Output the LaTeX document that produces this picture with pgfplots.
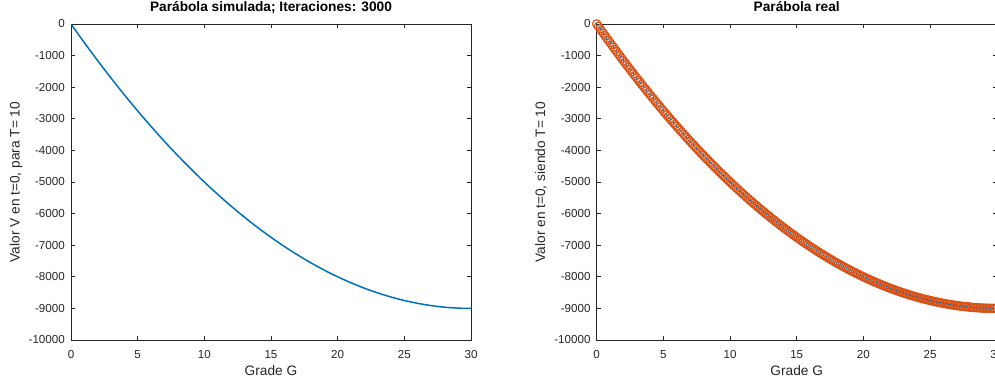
\documentclass[border=0pt]{standalone}
\usepackage{pgfplots}
\usepackage{pgfplotstable}
\pgfplotsset{compat=1.18}
\usepackage{fontspec}
\setmainfont{Liberation Sans}
\definecolor{mblue}{rgb}{0,0.447,0.741}
\definecolor{morange}{rgb}{0.85,0.325,0.098}
\definecolor{axgray}{rgb}{0.15,0.15,0.15}

\pgfplotstableread{
G V
0 0
0.25 -149.375
0.5 -297.5
0.75 -444.375
1 -590
1.25 -734.375
1.5 -877.5
1.75 -1019.375
2 -1160
2.25 -1299.375
2.5 -1437.5
2.75 -1574.375
3 -1710
3.25 -1844.375
3.5 -1977.5
3.75 -2109.375
4 -2240
4.25 -2369.375
4.5 -2497.5
4.75 -2624.375
5 -2750
5.25 -2874.375
5.5 -2997.5
5.75 -3119.375
6 -3240
6.25 -3359.375
6.5 -3477.5
6.75 -3594.375
7 -3710
7.25 -3824.375
7.5 -3937.5
7.75 -4049.375
8 -4160
8.25 -4269.375
8.5 -4377.5
8.75 -4484.375
9 -4590
9.25 -4694.375
9.5 -4797.5
9.75 -4899.375
10 -5000
10.25 -5099.375
10.5 -5197.5
10.75 -5294.375
11 -5390
11.25 -5484.375
11.5 -5577.5
11.75 -5669.375
12 -5760
12.25 -5849.375
12.5 -5937.5
12.75 -6024.375
13 -6110
13.25 -6194.375
13.5 -6277.5
13.75 -6359.375
14 -6440
14.25 -6519.375
14.5 -6597.5
14.75 -6674.375
15 -6750
15.25 -6824.375
15.5 -6897.5
15.75 -6969.375
16 -7040
16.25 -7109.375
16.5 -7177.5
16.75 -7244.375
17 -7310
17.25 -7374.375
17.5 -7437.5
17.75 -7499.375
18 -7560
18.25 -7619.375
18.5 -7677.5
18.75 -7734.375
19 -7790
19.25 -7844.375
19.5 -7897.5
19.75 -7949.375
20 -8000
20.25 -8049.375
20.5 -8097.5
20.75 -8144.375
21 -8190
21.25 -8234.375
21.5 -8277.5
21.75 -8319.375
22 -8360
22.25 -8399.375
22.5 -8437.5
22.75 -8474.375
23 -8510
23.25 -8544.375
23.5 -8577.5
23.75 -8609.375
24 -8640
24.25 -8669.375
24.5 -8697.5
24.75 -8724.375
25 -8750
25.25 -8774.375
25.5 -8797.5
25.75 -8819.375
26 -8840
26.25 -8859.375
26.5 -8877.5
26.75 -8894.375
27 -8910
27.25 -8924.375
27.5 -8937.5
27.75 -8949.375
28 -8960
28.25 -8969.375
28.5 -8977.5
28.75 -8984.375
29 -8990
29.25 -8994.375
29.5 -8997.5
29.75 -8999.375
30 -9000
}\datatable

\pgfplotstableread{
G V
0.125 -74.84
0.375 -223.59
0.625 -371.09
0.875 -517.34
1.125 -662.34
1.375 -806.09
1.625 -948.59
1.875 -1089.84
2.125 -1229.84
2.375 -1368.59
2.625 -1506.09
2.875 -1642.34
3.125 -1777.34
3.375 -1911.09
3.625 -2043.59
3.875 -2174.84
4.125 -2304.84
4.375 -2433.59
4.625 -2561.09
4.875 -2687.34
5.125 -2812.34
5.375 -2936.09
5.625 -3058.59
5.875 -3179.84
6.125 -3299.84
6.375 -3418.59
6.625 -3536.09
6.875 -3652.34
7.125 -3767.34
7.375 -3881.09
7.625 -3993.59
7.875 -4104.84
8.125 -4214.84
8.375 -4323.59
8.625 -4431.09
8.875 -4537.34
9.125 -4642.34
9.375 -4746.09
9.625 -4848.59
9.875 -4949.84
10.125 -5049.84
10.375 -5148.59
10.625 -5246.09
10.875 -5342.34
11.125 -5437.34
11.375 -5531.09
11.625 -5623.59
11.875 -5714.84
12.125 -5804.84
12.375 -5893.59
12.625 -5981.09
12.875 -6067.34
13.125 -6152.34
13.375 -6236.09
13.625 -6318.59
13.875 -6399.84
14.125 -6479.84
14.375 -6558.59
14.625 -6636.09
14.875 -6712.34
15.125 -6787.34
15.375 -6861.09
15.625 -6933.59
15.875 -7004.84
16.125 -7074.84
16.375 -7143.59
16.625 -7211.09
16.875 -7277.34
17.125 -7342.34
17.375 -7406.09
17.625 -7468.59
17.875 -7529.84
18.125 -7589.84
18.375 -7648.59
18.625 -7706.09
18.875 -7762.34
19.125 -7817.34
19.375 -7871.09
19.625 -7923.59
19.875 -7974.84
20.125 -8024.84
20.375 -8073.59
20.625 -8121.09
20.875 -8167.34
21.125 -8212.34
21.375 -8256.09
21.625 -8298.59
21.875 -8339.84
22.125 -8379.84
22.375 -8418.59
22.625 -8456.09
22.875 -8492.34
23.125 -8527.34
23.375 -8561.09
23.625 -8593.59
23.875 -8624.84
24.125 -8654.84
24.375 -8683.59
24.625 -8711.09
24.875 -8737.34
25.125 -8762.34
25.375 -8786.09
25.625 -8808.59
25.875 -8829.84
26.125 -8849.84
26.375 -8868.59
26.625 -8886.09
26.875 -8902.34
27.125 -8917.34
27.375 -8931.09
27.625 -8943.59
27.875 -8954.84
28.125 -8964.84
28.375 -8973.59
28.625 -8981.09
28.875 -8987.34
29.125 -8992.34
29.375 -8996.09
29.625 -8998.59
29.875 -8999.84
}\midtable

\pgfplotsset{
  mstyle/.style={
    scale only axis, width=400pt, height=316pt,
    xmin=0, xmax=30, ymin=-10000, ymax=0,
    xtick={0,5,...,30}, ytick={-10000,-9000,...,0},
    tick align=inside, xtick pos=both, ytick pos=both,
    major tick length=4pt,
    axis line style={axgray, line width=0.8pt},
    every tick/.style={axgray, line width=0.8pt},
    scaled y ticks=false, scaled x ticks=false,
    /pgf/number format/assume math mode=true,
    /pgf/number format/1000 sep={},
    tick label style={font=\fontsize{11.6}{13}\selectfont, text=axgray},
    xticklabel style={anchor=base, yshift=-18.3pt},
    yticklabel style={anchor=east, inner sep=0pt, xshift=-6pt},
    title style={at={(axis description cs:0.5,1)}, anchor=base, yshift=6pt,
      font=\fontsize{13.7}{15}\selectfont\bfseries},
    xlabel style={at={(axis description cs:0.5,0)}, anchor=base, yshift=-35pt,
      font=\fontsize{13.7}{15}\selectfont, text=axgray},
    ylabel style={font=\fontsize{13.7}{15}\selectfont, text=axgray, anchor=center},
  }
}

\begin{document}
\begin{tikzpicture}
\begin{axis}[mstyle, at={(0pt,0pt)}, anchor=south west,
  title={Parábola simulada; Iteraciones: 3000},
  xlabel={Grade G},
  ylabel={Valor V en t=0, para T= 10},
  ylabel style={at={(axis description cs:-0.1375,0.5)}}]
\addplot[mblue, line width=1.5pt] table[x=G, y=V] {\datatable};
\end{axis}
\begin{axis}[mstyle, at={(525.7pt,0pt)}, anchor=south west, clip=false,
  title={Parábola real},
  xlabel={Grade G},
  ylabel={Valor en t=0, siendo T= 10},
  ylabel style={at={(axis description cs:-0.139,0.5)}}]
\addplot[only marks, mark=o, mark size=4.2pt, morange, mark options={line width=1.1pt}] table[x=G, y=V] {\datatable};
\addplot[only marks, mark=o, mark size=4.2pt, morange, mark options={line width=1.1pt}] table[x=G, y=V] {\midtable};
\addplot[only marks, mark=*, mark size=0.5pt, mblue] table[x=G, y=V] {\datatable};
\end{axis}
\pgfresetboundingbox
\path (-71pt,-38pt) rectangle (924pt,340pt);
\end{tikzpicture}
\end{document}
